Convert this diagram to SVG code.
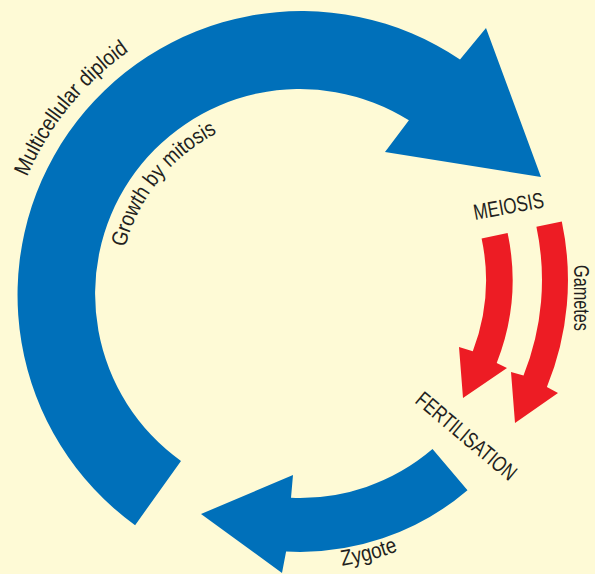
<svg xmlns="http://www.w3.org/2000/svg" width="595" height="574" viewBox="0 0 595 574">
  <style>
    .blue { fill: #0070BA; }
    .red { fill: #ED1C24; }
    .lbl { font-family: "Liberation Sans", Arial, sans-serif; font-size: 22px; fill: #231F20; }
  </style>
  <defs>
    <!-- baselines for curved labels, centred on the cycle (300,294) -->
    <path id="pOuter" d="M 20.9,192.4 A 297 297 0 0 1 151.5,36.8"/>
    <path id="pInner" d="M 121.7,262.6 A 181 181 0 0 1 238.1,123.9"/>
    <path id="pZyg" d="M 324.0,567.9 A 275 275 0 0 0 437.5,532.2"/>
  </defs>
  <rect width="595" height="574" fill="#FEFAD6"/>

  <g id="connectors">
    <!-- main diploid growth arc -->
    <path id="growth-arrow" class="blue" d="M 135.1,525.2 A 284 284 0 0 1 460.0,59.4 L 486,28 L 541,177 L 385,152 L 408.9,120.3 A 205 205 0 0 0 181.0,460.9 Z"/>
    <!-- gametes -->
    <path id="gamete-a" class="red" d="M 507.6,232.9 A 226.5 226.5 0 0 1 496.7,363.0 L 507,368 L 463,398 L 459,347 L 472.8,351.3 A 200 200 0 0 0 481.6,238.4 Z"/>
    <path id="gamete-b" class="red" d="M 561.8,221.4 A 282 282 0 0 1 546.9,387.0 L 558,393 L 515,423 L 511,372 L 523.5,375.5 A 256 256 0 0 0 536.4,226.8 Z"/>
    <!-- zygote arc -->
    <path id="zygote-arrow" class="blue" d="M 432.5,449.1 A 204 204 0 0 1 291,497.8 L 293,475 L 201,514 L 282,573 L 286.1,551.6 A 258 258 0 0 0 467.5,490.2 Z"/>
  </g>

  <g id="multicellular">
    <text class="lbl"><textPath href="#pOuter" startOffset="16.6" textLength="164" lengthAdjust="spacingAndGlyphs">Multicellular diploid</textPath></text>
  </g>
  <g id="growth">
    <text class="lbl"><textPath href="#pInner" startOffset="15.5" textLength="151" lengthAdjust="spacingAndGlyphs">Growth by mitosis</textPath></text>
  </g>
  <g id="meiosis">
    <text class="lbl" x="475" y="220" transform="rotate(-10.5 475 220)" textLength="71" lengthAdjust="spacingAndGlyphs">MEIOSIS</text>
  </g>
  <g id="gametes">
    <text class="lbl" x="574" y="265" transform="rotate(90 574 265)" textLength="66" lengthAdjust="spacingAndGlyphs">Gametes</text>
  </g>
  <g id="fertilisation">
    <text class="lbl" x="414" y="402" transform="rotate(40 414 402)" textLength="124" lengthAdjust="spacingAndGlyphs">FERTILISATION</text>
  </g>
  <g id="zygote">
    <text class="lbl"><textPath href="#pZyg" startOffset="18.2" textLength="58" lengthAdjust="spacingAndGlyphs">Zygote</textPath></text>
  </g>
</svg>
